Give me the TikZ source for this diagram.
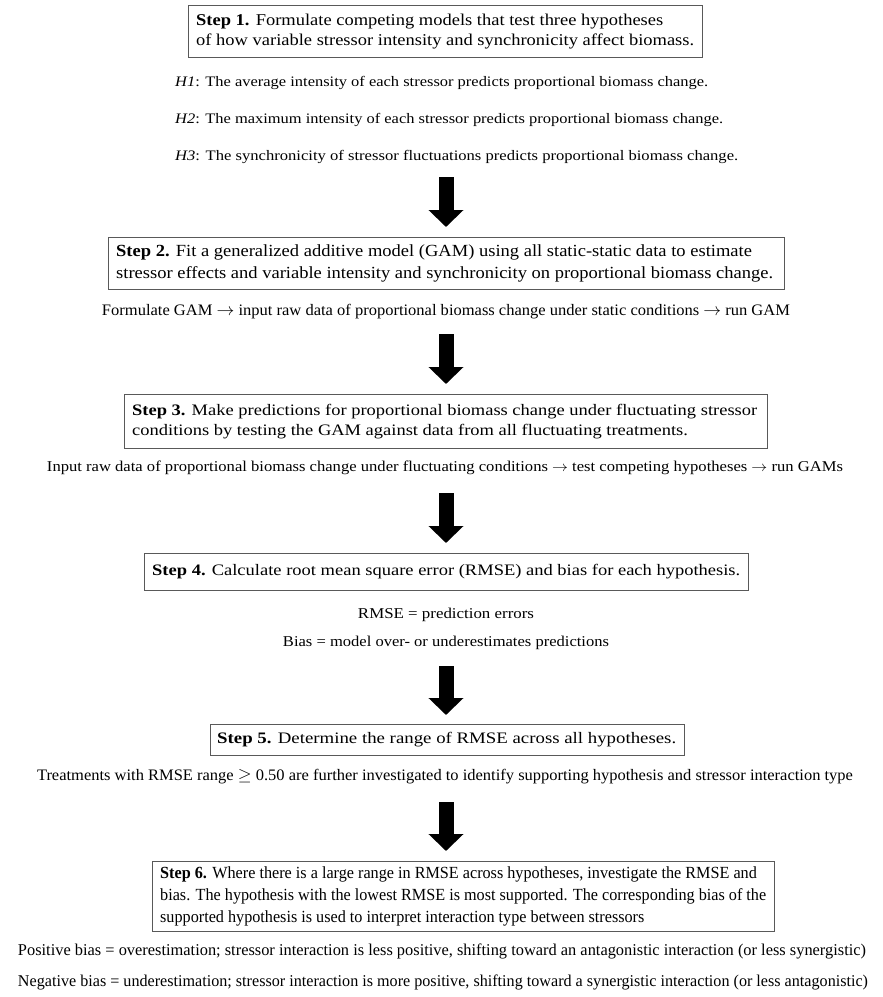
\documentclass[tikz,border=0pt]{standalone}
\usepackage{fontspec}
\setmainfont{Liberation Serif}
\usepackage{graphicx}
\usetikzlibrary{arrows.meta}
\newcommand{\fitto}[2]{\resizebox{#1pt}{\height}{#2}}
\newcommand{\boxlines}[4]{\fitto{#1}{\fontsize{#4}{#2}\selectfont\begin{tabular}{@{}l@{}}#3\end{tabular}}}
\tikzset{
  stepbox/.style={draw=black!65, line width=1pt, rectangle, inner sep=0pt},
  txt/.style={inner sep=0pt},
  bigarrow/.style={line width=15pt, -{Triangle[width=34pt,length=17pt]}},
}
\begin{document}
\begin{tikzpicture}[x=1pt,y=-1pt]
\path[use as bounding box, fill=white] (0,0) rectangle (883,997);
% Step 1
\node[stepbox, minimum width=514pt, minimum height=52pt] (s1) at (445,31) {};
\node[txt, anchor=west] (t1) at (196,31) {\boxlines{498}{20}{\textbf{Step 1.} Formulate competing models that test three hypotheses\\ of how variable stressor intensity and synchronicity affect biomass.}{16.5}};
\node[txt, anchor=west] (h1) at (175,83) {\fitto{533}{\fontsize{14.5}{17}\selectfont\textit{H1}: The average intensity of each stressor predicts proportional biomass change.}};
\node[txt, anchor=west] (h2) at (175,120) {\fitto{548}{\fontsize{14.5}{17}\selectfont\textit{H2}: The maximum intensity of each stressor predicts proportional biomass change.}};
\node[txt, anchor=west] (h3) at (175,157) {\fitto{563}{\fontsize{14.5}{17}\selectfont\textit{H3}: The synchronicity of stressor fluctuations predicts proportional biomass change.}};
\coordinate (a1s) at (446,177);
\coordinate (a1e) at (446,227);
\draw[bigarrow] (a1s) -- (a1e);
% Step 2
\node[stepbox, minimum width=676pt, minimum height=52pt] (s2) at (446,263) {};
\node[txt, anchor=west] (t2) at (116,263) {\boxlines{657}{22}{\textbf{Step 2.} Fit a generalized additive model (GAM) using all static-static data to estimate\\ stressor effects and variable intensity and synchronicity on proportional biomass change.}{17}};
\node[txt] (f2) at (446,312) {\fitto{688}{\fontsize{16}{18}\selectfont Formulate GAM $\rightarrow$ input raw data of proportional biomass change under static conditions $\rightarrow$ run GAM}};
\coordinate (a2s) at (446,334);
\coordinate (a2e) at (446,384);
\draw[bigarrow] (a2s) -- (a2e);
% Step 3
\node[stepbox, minimum width=643pt, minimum height=54pt] (s3) at (445.5,421) {};
\node[txt, anchor=west] (t3) at (132,421) {\boxlines{625}{20}{\textbf{Step 3.} Make predictions for proportional biomass change under fluctuating stressor\\ conditions by testing the GAM against data from all fluctuating treatments.}{16}};
\node[txt] (i3) at (445,468) {\fitto{796}{\fontsize{15}{17}\selectfont Input raw data of proportional biomass change under fluctuating conditions $\rightarrow$ test competing hypotheses $\rightarrow$ run GAMs}};
\coordinate (a3s) at (446,493);
\coordinate (a3e) at (446,543);
\draw[bigarrow] (a3s) -- (a3e);
% Step 4
\node[stepbox, minimum width=604pt, minimum height=37pt] (s4) at (446,572) {};
\node[txt, anchor=west] (t4) at (152,572) {\fitto{588}{\fontsize{16}{19}\selectfont\textbf{Step 4.} Calculate root mean square error (RMSE) and bias for each hypothesis.}};
\node[txt] (r4) at (446,615) {\fitto{176}{\fontsize{15}{17}\selectfont RMSE = prediction errors}};
\node[txt] (b4) at (446,643) {\fitto{326}{\fontsize{15}{17}\selectfont Bias = model over- or underestimates predictions}};
\coordinate (a4s) at (446,666);
\coordinate (a4e) at (446,715);
\draw[bigarrow] (a4s) -- (a4e);
% Step 5
\node[stepbox, minimum width=474pt, minimum height=31pt] (s5) at (447,740) {};
\node[txt, anchor=west] (t5) at (217,740) {\fitto{459}{\fontsize{16}{19}\selectfont\textbf{Step 5.} Determine the range of RMSE across all hypotheses.}};
\node[txt] (tr5) at (445,777) {\fitto{816}{\fontsize{16}{18}\selectfont Treatments with RMSE range $\geq$ 0.50 are further investigated to identify supporting hypothesis and stressor interaction type}};
\coordinate (a5s) at (446,802);
\coordinate (a5e) at (446,851);
\draw[bigarrow] (a5s) -- (a5e);
% Step 6
\node[stepbox, minimum width=622pt, minimum height=70pt] (s6) at (463,896) {};
\node[txt, anchor=west] (t6) at (160,896) {\boxlines{606}{22}{\textbf{Step 6.} Where there is a large range in RMSE across hypotheses, investigate the RMSE and\\ bias. The hypothesis with the lowest RMSE is most supported. The corresponding bias of the\\ supported hypothesis is used to interpret interaction type between stressors}{17}};
\node[txt] (p6) at (442,951) {\fitto{848}{\fontsize{16.5}{18}\selectfont Positive bias = overestimation; stressor interaction is less positive, shifting toward an antagonistic interaction (or less synergistic)}};
\node[txt] (n6) at (443,982) {\fitto{850}{\fontsize{16.5}{18}\selectfont Negative bias = underestimation; stressor interaction is more positive, shifting toward a synergistic interaction (or less antagonistic)}};
\end{tikzpicture}
\end{document}
